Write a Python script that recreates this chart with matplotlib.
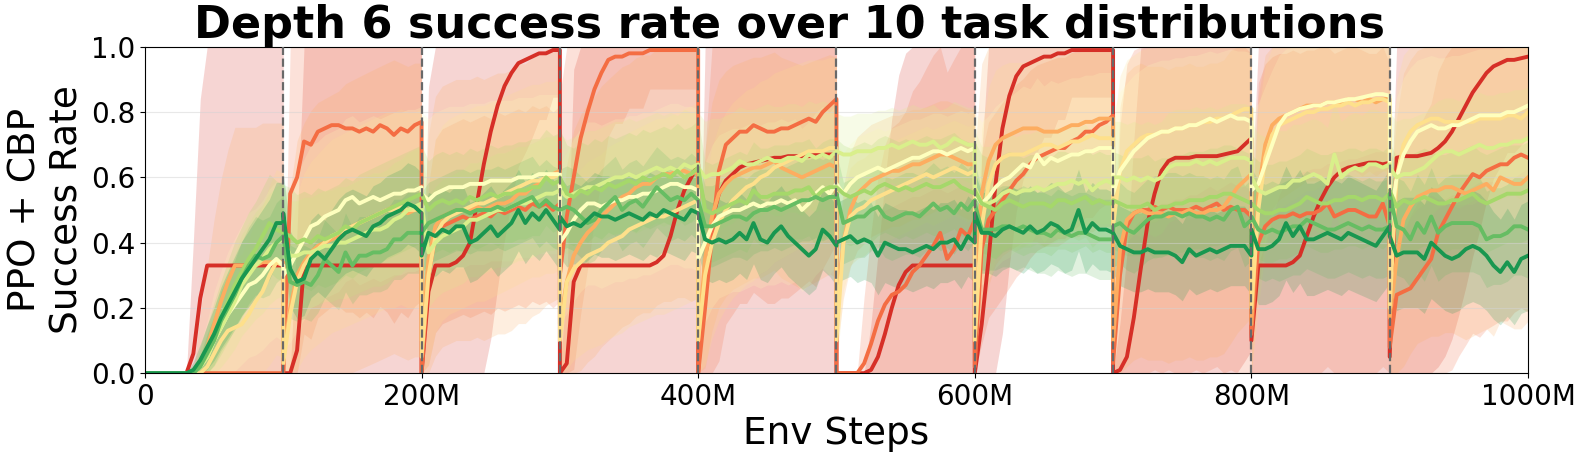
import numpy as np
import matplotlib.pyplot as plt
from matplotlib.ticker import FuncFormatter

# mean success rate per task distribution, sampled every 5M steps (0..100 within a task)
red = [
    [0, 0, 0, 0, 0, 0, 0, 0.06, 0.23, 0.33, 0.33, 0.33, 0.33, 0.33, 0.33, 0.33, 0.33, 0.33, 0.33, 0.33, 0.33],
    [0, 0, 0.07, 0.33, 0.33, 0.33, 0.33, 0.33, 0.33, 0.33, 0.33, 0.33, 0.33, 0.33, 0.33, 0.33, 0.33, 0.33, 0.33, 0.33, 0.33],
    [0, 0.25, 0.33, 0.33, 0.33, 0.34, 0.36, 0.4, 0.52, 0.64, 0.74, 0.82, 0.88, 0.92, 0.95, 0.96, 0.97, 0.98, 0.98, 0.99, 0.99],
    [0, 0.03, 0.28, 0.33, 0.33, 0.33, 0.33, 0.33, 0.33, 0.33, 0.33, 0.33, 0.33, 0.33, 0.34, 0.36, 0.42, 0.5, 0.56, 0.6, 0.64],
    [0, 0.33, 0.47, 0.55, 0.59, 0.61, 0.63, 0.64, 0.645, 0.65, 0.655, 0.66, 0.66, 0.665, 0.665, 0.665, 0.665, 0.67, 0.67, 0.67, 0.67],
    [0, 0, 0, 0, 0, 0.01, 0.05, 0.12, 0.2, 0.27, 0.31, 0.33, 0.33, 0.33, 0.33, 0.33, 0.33, 0.33, 0.33, 0.33, 0.33],
    [0, 0.15, 0.35, 0.58, 0.75, 0.85, 0.91, 0.94, 0.95, 0.96, 0.97, 0.97, 0.98, 0.98, 0.99, 0.99, 0.99, 0.99, 0.99, 0.99, 0.99],
    [0, 0.01, 0.05, 0.17, 0.32, 0.46, 0.55, 0.62, 0.65, 0.66, 0.66, 0.66, 0.665, 0.665, 0.665, 0.665, 0.67, 0.675, 0.68, 0.7, 0.72],
    [0.1, 0.33, 0.33, 0.33, 0.33, 0.33, 0.34, 0.36, 0.42, 0.48, 0.53, 0.57, 0.6, 0.62, 0.63, 0.635, 0.64, 0.645, 0.645, 0.64, 0.645],
    [0.05, 0.66, 0.665, 0.665, 0.665, 0.67, 0.675, 0.69, 0.71, 0.74, 0.78, 0.82, 0.86, 0.89, 0.92, 0.94, 0.95, 0.96, 0.96, 0.965, 0.97],
]
orange_red = [
    [0] * 21,
    [0, 0.55, 0.6, 0.71, 0.7, 0.74, 0.75, 0.76, 0.76, 0.75, 0.75, 0.74, 0.75, 0.74, 0.76, 0.75, 0.73, 0.75, 0.74, 0.76, 0.77],
    [0, 0.3, 0.42, 0.45, 0.46, 0.47, 0.48, 0.47, 0.48, 0.49, 0.48, 0.5, 0.49, 0.5, 0.51, 0.5, 0.52, 0.51, 0.52, 0.5, 0.52],
    [0.3, 0.48, 0.6, 0.72, 0.8, 0.87, 0.92, 0.96, 0.97, 0.97, 0.98, 0.98, 0.98, 0.99, 0.99, 0.99, 0.99, 0.99, 0.99, 0.99, 0.99],
    [0, 0.2, 0.42, 0.62, 0.7, 0.72, 0.74, 0.74, 0.76, 0.75, 0.74, 0.74, 0.75, 0.75, 0.76, 0.77, 0.78, 0.77, 0.8, 0.82, 0.84],
    [0, 0, 0, 0, 0.03, 0.09, 0.16, 0.21, 0.24, 0.25, 0.27, 0.31, 0.33, 0.36, 0.39, 0.43, 0.35, 0.38, 0.44, 0.42, 0.47],
    [0.02, 0.38, 0.47, 0.5, 0.53, 0.56, 0.59, 0.61, 0.64, 0.66, 0.67, 0.68, 0.69, 0.69, 0.71, 0.72, 0.74, 0.74, 0.76, 0.77, 0.79],
    [0.03, 0.3, 0.45, 0.49, 0.5, 0.5, 0.51, 0.5, 0.51, 0.5, 0.5, 0.5, 0.51, 0.5, 0.51, 0.52, 0.5, 0.51, 0.5, 0.5, 0.48],
    [0.12, 0.4, 0.45, 0.47, 0.48, 0.48, 0.49, 0.48, 0.49, 0.49, 0.5, 0.52, 0.48, 0.49, 0.5, 0.5, 0.49, 0.48, 0.48, 0.52, 0.45],
    [0.08, 0.24, 0.25, 0.26, 0.29, 0.32, 0.35, 0.43, 0.47, 0.51, 0.55, 0.58, 0.61, 0.6, 0.62, 0.63, 0.64, 0.64, 0.66, 0.67, 0.66],
]
orange = [
    [0, 0, 0, 0, 0, 0, 0, 0, 0.03, 0.08, 0.15, 0.22, 0.28, 0.33, 0.33, 0.33, 0.33, 0.34, 0.34, 0.34, 0.34],
    [0.05, 0.2, 0.3, 0.34, 0.37, 0.39, 0.4, 0.41, 0.42, 0.44, 0.45, 0.46, 0.47, 0.48, 0.49, 0.5, 0.51, 0.5, 0.49, 0.5, 0.5],
    [0.1, 0.35, 0.45, 0.48, 0.49, 0.5, 0.5, 0.5, 0.51, 0.5, 0.51, 0.52, 0.52, 0.53, 0.55, 0.55, 0.57, 0.58, 0.6, 0.61, 0.62],
    [0.15, 0.28, 0.36, 0.4, 0.43, 0.45, 0.48, 0.5, 0.52, 0.54, 0.55, 0.57, 0.58, 0.58, 0.6, 0.61, 0.61, 0.62, 0.62, 0.61, 0.62],
    [0.1, 0.35, 0.48, 0.55, 0.58, 0.6, 0.61, 0.62, 0.63, 0.63, 0.64, 0.65, 0.63, 0.62, 0.61, 0.6, 0.61, 0.62, 0.63, 0.64, 0.63],
    [0.2, 0.4, 0.5, 0.55, 0.57, 0.59, 0.6, 0.61, 0.62, 0.62, 0.63, 0.64, 0.64, 0.65, 0.66, 0.67, 0.67, 0.66, 0.65, 0.64, 0.64],
    [0.3, 0.55, 0.65, 0.7, 0.72, 0.73, 0.74, 0.75, 0.75, 0.75, 0.74, 0.74, 0.74, 0.75, 0.76, 0.76, 0.77, 0.77, 0.78, 0.78, 0.78],
    [0.1, 0.38, 0.47, 0.49, 0.5, 0.49, 0.49, 0.49, 0.48, 0.49, 0.49, 0.5, 0.49, 0.49, 0.5, 0.5, 0.51, 0.54, 0.57, 0.59, 0.61],
    [0.15, 0.55, 0.7, 0.76, 0.78, 0.79, 0.8, 0.81, 0.82, 0.82, 0.82, 0.83, 0.83, 0.83, 0.84, 0.84, 0.83, 0.84, 0.83, 0.84, 0.84],
    [0.17, 0.35, 0.47, 0.51, 0.54, 0.55, 0.56, 0.56, 0.57, 0.57, 0.56, 0.55, 0.56, 0.57, 0.58, 0.56, 0.6, 0.59, 0.58, 0.58, 0.6],
]
light_orange = [
    [0, 0, 0, 0, 0, 0, 0, 0, 0, 0.02, 0.06, 0.1, 0.13, 0.14, 0.15, 0.18, 0.22, 0.25, 0.3, 0.34, 0.33],
    [0.03, 0.18, 0.28, 0.33, 0.36, 0.38, 0.4, 0.42, 0.43, 0.44, 0.45, 0.46, 0.47, 0.48, 0.49, 0.5, 0.5, 0.51, 0.5, 0.5, 0.51],
    [0.05, 0.3, 0.42, 0.46, 0.48, 0.49, 0.5, 0.51, 0.52, 0.52, 0.53, 0.54, 0.55, 0.56, 0.57, 0.58, 0.59, 0.59, 0.6, 0.6, 0.61],
    [0.1, 0.28, 0.32, 0.34, 0.36, 0.37, 0.38, 0.4, 0.41, 0.42, 0.44, 0.45, 0.46, 0.47, 0.48, 0.48, 0.49, 0.5, 0.51, 0.52, 0.53],
    [0.1, 0.3, 0.4, 0.46, 0.5, 0.53, 0.55, 0.57, 0.58, 0.6, 0.61, 0.63, 0.64, 0.65, 0.66, 0.67, 0.68, 0.68, 0.68, 0.69, 0.69],
    [0.1, 0.4, 0.48, 0.5, 0.51, 0.53, 0.54, 0.55, 0.56, 0.57, 0.58, 0.59, 0.6, 0.61, 0.6, 0.61, 0.62, 0.63, 0.62, 0.61, 0.62],
    [0.1, 0.45, 0.58, 0.64, 0.66, 0.67, 0.67, 0.67, 0.68, 0.69, 0.7, 0.7, 0.69, 0.7, 0.71, 0.71, 0.72, 0.73, 0.72, 0.72, 0.72],
    [0.45, 0.62, 0.68, 0.7, 0.72, 0.73, 0.73, 0.74, 0.74, 0.75, 0.75, 0.76, 0.76, 0.77, 0.77, 0.78, 0.78, 0.79, 0.8, 0.81, 0.81],
    [0.2, 0.5, 0.66, 0.73, 0.76, 0.77, 0.78, 0.79, 0.8, 0.8, 0.81, 0.81, 0.82, 0.82, 0.83, 0.82, 0.83, 0.83, 0.84, 0.84, 0.83],
    [0.2, 0.6, 0.7, 0.74, 0.76, 0.77, 0.78, 0.78, 0.77, 0.77, 0.77, 0.77, 0.77, 0.78, 0.78, 0.78, 0.78, 0.79, 0.79, 0.78, 0.8],
]
pale_yellow = [
    [0, 0, 0, 0, 0, 0, 0, 0, 0.02, 0.05, 0.1, 0.14, 0.18, 0.21, 0.24, 0.27, 0.28, 0.3, 0.33, 0.35, 0.33],
    [0.3, 0.33, 0.37, 0.41, 0.45, 0.46, 0.48, 0.49, 0.5, 0.53, 0.54, 0.52, 0.53, 0.54, 0.53, 0.54, 0.55, 0.55, 0.56, 0.56, 0.57],
    [0.55, 0.53, 0.55, 0.56, 0.57, 0.57, 0.57, 0.58, 0.58, 0.58, 0.59, 0.59, 0.59, 0.59, 0.6, 0.6, 0.6, 0.61, 0.61, 0.61, 0.61],
    [0.4, 0.43, 0.47, 0.5, 0.52, 0.52, 0.51, 0.52, 0.53, 0.53, 0.54, 0.54, 0.55, 0.55, 0.56, 0.57, 0.58, 0.58, 0.57, 0.57, 0.56],
    [0.35, 0.4, 0.45, 0.48, 0.49, 0.5, 0.5, 0.51, 0.52, 0.51, 0.52, 0.52, 0.53, 0.52, 0.53, 0.5, 0.52, 0.55, 0.57, 0.55, 0.58],
    [0.58, 0.55, 0.58, 0.6, 0.61, 0.62, 0.63, 0.62, 0.63, 0.64, 0.65, 0.66, 0.66, 0.67, 0.68, 0.68, 0.67, 0.68, 0.69, 0.68, 0.69],
    [0.55, 0.52, 0.54, 0.57, 0.59, 0.6, 0.62, 0.64, 0.63, 0.67, 0.64, 0.66, 0.65, 0.66, 0.67, 0.67, 0.68, 0.68, 0.69, 0.69, 0.69],
    [0.55, 0.62, 0.65, 0.68, 0.7, 0.72, 0.73, 0.74, 0.74, 0.75, 0.75, 0.76, 0.76, 0.77, 0.78, 0.77, 0.78, 0.79, 0.78, 0.78, 0.77],
    [0.56, 0.58, 0.64, 0.7, 0.76, 0.79, 0.8, 0.81, 0.815, 0.82, 0.82, 0.83, 0.83, 0.835, 0.84, 0.84, 0.845, 0.85, 0.855, 0.855, 0.85],
    [0.45, 0.6, 0.67, 0.71, 0.74, 0.75, 0.76, 0.75, 0.75, 0.76, 0.76, 0.77, 0.78, 0.79, 0.79, 0.79, 0.79, 0.8, 0.8, 0.81, 0.82],
]
lime = [
    [0, 0, 0, 0, 0, 0, 0, 0, 0.02, 0.05, 0.1, 0.14, 0.18, 0.22, 0.27, 0.3, 0.33, 0.35, 0.38, 0.4, 0.41],
    [0.41, 0.36, 0.36, 0.37, 0.37, 0.38, 0.39, 0.39, 0.4, 0.4, 0.41, 0.42, 0.43, 0.44, 0.44, 0.45, 0.47, 0.48, 0.5, 0.51, 0.52],
    [0.52, 0.37, 0.4, 0.42, 0.43, 0.44, 0.45, 0.47, 0.47, 0.48, 0.49, 0.5, 0.5, 0.51, 0.52, 0.52, 0.53, 0.54, 0.55, 0.55, 0.56],
    [0.56, 0.54, 0.55, 0.56, 0.57, 0.57, 0.58, 0.59, 0.6, 0.6, 0.61, 0.6, 0.61, 0.62, 0.63, 0.62, 0.63, 0.62, 0.64, 0.63, 0.64],
    [0.63, 0.6, 0.61, 0.61, 0.62, 0.63, 0.65, 0.64, 0.64, 0.65, 0.66, 0.65, 0.65, 0.66, 0.66, 0.65, 0.67, 0.66, 0.67, 0.66, 0.68],
    [0.68, 0.67, 0.67, 0.68, 0.68, 0.68, 0.69, 0.69, 0.7, 0.69, 0.7, 0.71, 0.7, 0.7, 0.71, 0.69, 0.7, 0.72, 0.71, 0.7, 0.7],
    [0.57, 0.52, 0.52, 0.53, 0.55, 0.56, 0.55, 0.56, 0.56, 0.57, 0.56, 0.57, 0.58, 0.58, 0.59, 0.58, 0.59, 0.56, 0.58, 0.59, 0.58],
    [0.6, 0.6, 0.59, 0.6, 0.59, 0.6, 0.59, 0.6, 0.63, 0.64, 0.64, 0.64, 0.65, 0.64, 0.65, 0.64, 0.65, 0.66, 0.66, 0.66, 0.65],
    [0.6, 0.56, 0.55, 0.56, 0.57, 0.57, 0.59, 0.59, 0.6, 0.61, 0.6, 0.58, 0.67, 0.6, 0.62, 0.63, 0.62, 0.64, 0.64, 0.63, 0.64],
    [0.63, 0.6, 0.61, 0.61, 0.62, 0.63, 0.65, 0.67, 0.68, 0.68, 0.67, 0.68, 0.69, 0.7, 0.69, 0.69, 0.7, 0.7, 0.71, 0.71, 0.72],
]
light_green = [
    [0, 0, 0, 0, 0, 0, 0, 0, 0.03, 0.07, 0.12, 0.17, 0.22, 0.27, 0.31, 0.35, 0.38, 0.42, 0.46, 0.44, 0.43],
    [0.43, 0.42, 0.4, 0.41, 0.4, 0.42, 0.41, 0.42, 0.43, 0.45, 0.44, 0.46, 0.47, 0.48, 0.49, 0.5, 0.51, 0.52, 0.53, 0.54, 0.55],
    [0.55, 0.5, 0.52, 0.53, 0.52, 0.53, 0.52, 0.54, 0.53, 0.54, 0.55, 0.54, 0.55, 0.55, 0.56, 0.56, 0.57, 0.57, 0.6, 0.58, 0.59],
    [0.6, 0.55, 0.54, 0.56, 0.55, 0.57, 0.56, 0.58, 0.57, 0.58, 0.59, 0.58, 0.6, 0.59, 0.6, 0.61, 0.6, 0.62, 0.6, 0.61, 0.63],
    [0.63, 0.5, 0.49, 0.5, 0.51, 0.52, 0.53, 0.52, 0.56, 0.54, 0.54, 0.55, 0.55, 0.55, 0.56, 0.56, 0.57, 0.54, 0.56, 0.57, 0.57],
    [0.57, 0.55, 0.54, 0.55, 0.56, 0.55, 0.57, 0.58, 0.57, 0.56, 0.57, 0.56, 0.57, 0.58, 0.57, 0.57, 0.58, 0.59, 0.57, 0.56, 0.55],
    [0.56, 0.52, 0.51, 0.5, 0.52, 0.53, 0.52, 0.51, 0.52, 0.52, 0.52, 0.51, 0.53, 0.53, 0.52, 0.53, 0.54, 0.52, 0.53, 0.52, 0.52],
    [0.53, 0.52, 0.51, 0.51, 0.51, 0.52, 0.5, 0.51, 0.51, 0.52, 0.52, 0.53, 0.53, 0.53, 0.54, 0.54, 0.55, 0.55, 0.54, 0.53, 0.52],
    [0.52, 0.5, 0.49, 0.49, 0.5, 0.5, 0.51, 0.52, 0.54, 0.53, 0.52, 0.52, 0.53, 0.53, 0.54, 0.54, 0.53, 0.54, 0.54, 0.53, 0.55],
    [0.56, 0.51, 0.53, 0.52, 0.53, 0.54, 0.53, 0.52, 0.52, 0.53, 0.53, 0.54, 0.55, 0.53, 0.52, 0.53, 0.54, 0.55, 0.55, 0.55, 0.56],
]
green = [
    [0, 0, 0, 0, 0, 0, 0, 0, 0.02, 0.06, 0.1, 0.16, 0.2, 0.24, 0.29, 0.33, 0.36, 0.35, 0.36, 0.4, 0.42],
    [0.42, 0.28, 0.27, 0.28, 0.27, 0.3, 0.35, 0.33, 0.31, 0.37, 0.33, 0.36, 0.36, 0.37, 0.37, 0.38, 0.41, 0.41, 0.43, 0.43, 0.43],
    [0.43, 0.46, 0.47, 0.48, 0.49, 0.5, 0.5, 0.49, 0.5, 0.5, 0.5, 0.51, 0.5, 0.51, 0.52, 0.53, 0.54, 0.51, 0.53, 0.51, 0.5],
    [0.5, 0.51, 0.5, 0.48, 0.46, 0.47, 0.5, 0.52, 0.54, 0.5, 0.52, 0.53, 0.51, 0.54, 0.57, 0.55, 0.53, 0.54, 0.53, 0.55, 0.53],
    [0.53, 0.45, 0.45, 0.46, 0.47, 0.48, 0.48, 0.47, 0.49, 0.5, 0.5, 0.51, 0.5, 0.51, 0.52, 0.53, 0.53, 0.54, 0.53, 0.54, 0.54],
    [0.55, 0.46, 0.47, 0.48, 0.48, 0.5, 0.51, 0.48, 0.47, 0.48, 0.49, 0.49, 0.48, 0.5, 0.52, 0.5, 0.51, 0.49, 0.52, 0.5, 0.53],
    [0.52, 0.44, 0.44, 0.44, 0.45, 0.45, 0.44, 0.45, 0.44, 0.43, 0.43, 0.42, 0.44, 0.43, 0.42, 0.43, 0.43, 0.42, 0.41, 0.41, 0.41],
    [0.45, 0.46, 0.44, 0.43, 0.45, 0.47, 0.48, 0.48, 0.49, 0.49, 0.48, 0.49, 0.48, 0.48, 0.47, 0.48, 0.47, 0.5, 0.51, 0.45, 0.47],
    [0.48, 0.44, 0.43, 0.44, 0.43, 0.44, 0.45, 0.45, 0.47, 0.46, 0.45, 0.44, 0.44, 0.45, 0.46, 0.45, 0.44, 0.45, 0.44, 0.44, 0.45],
    [0.55, 0.45, 0.44, 0.41, 0.46, 0.43, 0.48, 0.43, 0.45, 0.46, 0.46, 0.46, 0.46, 0.45, 0.41, 0.42, 0.42, 0.43, 0.45, 0.45, 0.44],
]
dark_green = [
    [0, 0, 0, 0, 0, 0, 0, 0.01, 0.04, 0.08, 0.12, 0.17, 0.21, 0.25, 0.29, 0.32, 0.35, 0.38, 0.41, 0.46, 0.46],
    [0.49, 0.32, 0.28, 0.29, 0.35, 0.37, 0.35, 0.38, 0.41, 0.43, 0.44, 0.43, 0.42, 0.45, 0.46, 0.48, 0.49, 0.5, 0.52, 0.51, 0.49],
    [0.36, 0.43, 0.42, 0.44, 0.43, 0.45, 0.45, 0.4, 0.41, 0.43, 0.45, 0.42, 0.44, 0.46, 0.5, 0.46, 0.49, 0.47, 0.5, 0.47, 0.44],
    [0.48, 0.45, 0.46, 0.45, 0.47, 0.49, 0.48, 0.48, 0.47, 0.48, 0.49, 0.48, 0.47, 0.49, 0.48, 0.5, 0.49, 0.48, 0.47, 0.5, 0.49],
    [0.49, 0.41, 0.4, 0.41, 0.4, 0.41, 0.43, 0.41, 0.46, 0.41, 0.4, 0.43, 0.45, 0.42, 0.4, 0.38, 0.36, 0.38, 0.44, 0.42, 0.39],
    [0.4, 0.41, 0.42, 0.4, 0.41, 0.4, 0.36, 0.4, 0.39, 0.38, 0.38, 0.37, 0.38, 0.39, 0.38, 0.4, 0.4, 0.41, 0.38, 0.42, 0.4],
    [0.49, 0.43, 0.43, 0.42, 0.44, 0.45, 0.44, 0.43, 0.45, 0.43, 0.44, 0.46, 0.45, 0.43, 0.44, 0.5, 0.43, 0.46, 0.44, 0.44, 0.43],
    [0.43, 0.39, 0.38, 0.37, 0.37, 0.38, 0.37, 0.37, 0.37, 0.36, 0.34, 0.38, 0.36, 0.37, 0.38, 0.37, 0.38, 0.39, 0.39, 0.39, 0.36],
    [0.44, 0.38, 0.38, 0.39, 0.41, 0.46, 0.42, 0.45, 0.41, 0.41, 0.42, 0.43, 0.42, 0.41, 0.43, 0.42, 0.41, 0.4, 0.39, 0.42, 0.45],
    [0.42, 0.36, 0.37, 0.37, 0.37, 0.35, 0.4, 0.38, 0.36, 0.35, 0.36, 0.38, 0.39, 0.38, 0.36, 0.33, 0.31, 0.34, 0.31, 0.35, 0.36],
]

# seed spread per task (scales a binomial-like std of the mean)
red_spread = [1.45, 1.45, 1.45, 1.45, 1.45, 1.45, 1.45, 1.45, 1.45, 1.45]
orange_red_spread = [1.2, 1.3, 0.6, 1.2, 1.2, 1.2, 0.6, 1.0, 1.0, 1.0]
orange_spread = [0.9, 0.9, 0.8, 0.8, 0.7, 0.35, 0.8, 0.9, 0.6, 0.9]
light_orange_spread = [0.6, 0.6, 0.6, 0.6, 0.6, 0.3, 0.6, 0.6, 0.6, 0.6]
pale_yellow_spread = [0.5, 0.5, 0.5, 0.5, 0.5, 0.25, 0.5, 0.5, 0.5, 0.5]
lime_spread = [0.35, 0.35, 0.35, 0.35, 0.35, 0.25, 0.35, 0.35, 0.35, 0.35]
light_green_spread = [0.3, 0.3, 0.3, 0.3, 0.3, 0.3, 0.3, 0.3, 0.3, 0.3]
green_spread = [0.25, 0.25, 0.25, 0.25, 0.25, 0.25, 0.25, 0.25, 0.3, 0.3]
dark_green_spread = [0.25, 0.25, 0.25, 0.25, 0.25, 0.25, 0.25, 0.25, 0.35, 0.35]

task_len = 100
steps_in_task = np.arange(0, task_len + 1, 5)
xticks = [0, 200, 400, 600, 800, 1000]

series = [red, orange_red, orange, light_orange, pale_yellow, lime, light_green, green, dark_green]
spreads = [red_spread, orange_red_spread, orange_spread, light_orange_spread, pale_yellow_spread,
           lime_spread, light_green_spread, green_spread, dark_green_spread]
colors = plt.cm.RdYlGn(np.linspace(0.1, 0.9, len(series)))

fig, ax = plt.subplots(figsize=(15.79, 4.59), dpi=100)
fig.subplots_adjust(left=0.0918, right=0.9677, bottom=0.187, top=0.898)

x = np.concatenate([steps_in_task + task_len * t for t in range(10)])
for vals, spread, col in zip(series, spreads, colors):
    m = np.concatenate([np.array(v, dtype=float) for v in vals])
    k = np.repeat(spread, len(steps_in_task))
    s = k * np.sqrt(np.clip(m * (1 - m), 0, None))
    ax.fill_between(x, np.clip(m - s, 0, 1), np.clip(m + s, 0, 1), color=col, alpha=0.2, lw=0)

for vals, col in zip(series, colors):
    m = np.concatenate([np.array(v, dtype=float) for v in vals])
    ax.plot(x, m, color=col, lw=2.8)

for t in range(1, 10):
    ax.axvline(t * task_len, color='dimgray', ls='--', lw=1.6, zorder=3)

ax.set_xlim(0, 1000)
ax.set_ylim(0, 1)
ax.set_xticks(xticks)
ax.xaxis.set_major_formatter(FuncFormatter(lambda v, p: '0' if v == 0 else f'{int(v)}M'))
ax.set_yticks(np.arange(0, 1.01, 0.2))
ax.yaxis.set_major_formatter(FuncFormatter(lambda v, p: f'{v:.1f}'))
ax.tick_params(labelsize=20)
ax.grid(axis='y', color='lightgray', alpha=0.5)
ax.set_xlabel('Env Steps', fontsize=27)
ax.set_ylabel('PPO + CBP\nSuccess Rate', fontsize=27)
fig.suptitle('Depth 6 success rate over 10 task distributions', x=0.5, y=0.992,
             fontsize=32, fontweight='bold')

plt.savefig('out.png', dpi=100)
